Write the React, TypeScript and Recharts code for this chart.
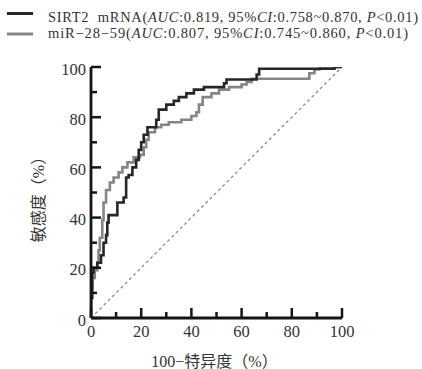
import React from 'react';
import { LineChart, Line, XAxis, YAxis } from 'recharts';

// ROC points: [100-specificity (%), sensitivity (%)]
const sirt2Fpr = [0,0,0.5,0.5,1,1,2.5,2.5,4,4,5,5,6,6,6.5,6.5,7,7,10.5,10.5,13,13,14,14,15,15,16.5,16.5,18,18,19,19,20,20,21,21,22.5,22.5,26,26,27,27,30,30,33,33,35,35,38,38,41,41,45,45,53,53,54,54,66,66,67,67,97,97,100];
const sirt2Sens = [0,8,8,18,18,20,20,22,22,25,25,30,30,33,33,38,38,41,41,46,46,48,48,56,56,57,57,60,60,63,63,67,67,70,70,73,73,76,76,79,79,83,83,85,85,86.5,86.5,88,88,89.5,89.5,91,91,92,92,93.5,93.5,95,95,97,97,99.3,99.3,100,100];

const mirFpr = [0,0,0.5,0.5,1.5,1.5,2.5,2.5,3,3,3.5,3.5,4.5,4.5,5,5,6,6,7.5,7.5,9,9,11,11,12.5,12.5,14.5,14.5,17,17,19.5,19.5,21,21,22,22,23,23,25.5,25.5,28,28,31,31,36,36,40,40,42,42,43,43,44.5,44.5,48,48,51,51,55,55,60,60,62,62,64,64,87,87,89,89,91,91,100];
const mirSens = [0,12,12,16,16,19,19,22,22,27,27,32,32,39,39,46,46,51,51,54,54,56,56,58,58,60,60,62,62,64,64,65,65,68,68,71,71,74,74,76,76,77,77,78,78,79,79,80.5,80.5,82,82,85,85,88,88,89.5,89.5,91,91,92,92,93,93,94,94,95.3,95.3,97.5,97.5,99,99,100,100];

const refFpr = [0, 100];
const refSens = [0, 100];

const xTicks = [0,10,20,30,40,50,60,70,80,90,100];
const yTicks = [0,10,20,30,40,50,60,70,80,90,100];

const legendLabels = [
  ['SIRT2\u00a0\u00a0mRNA', '0.819', '0.758~0.870'],
  ['miR\u221228\u221259', '0.807', '0.745~0.860'],
];

const xTitle = '100\u2212特异度（%）';
const yTitle = '敏感度（%）';

const toPts = (xs: number[], ys: number[]) => xs.map((x, i) => ({ x, y: ys[i] }));
const sirt2Data = toPts(sirt2Fpr, sirt2Sens);
const mirData = toPts(mirFpr, mirSens);
const refData = toPts(refFpr, refSens);

const SERIF = '"Liberation Serif", "DejaVu Serif", serif';
const CJK = '"Liberation Serif", "Noto Sans CJK SC", serif';
const AXIS = '#151515';

const XTick = (props: any) => {
  const { x, y, payload } = props;
  const v = payload.value;
  const major = v % 20 === 0;
  return (
    <g>
      <line x1={x} x2={x} y1={y} y2={y - (major ? 10 : 6)} stroke={AXIS} strokeWidth={2.5} />
      {major && (
        <text x={x} y={y + 19} textAnchor="middle" fontFamily={SERIF} fontSize={16.5} fill="#333">{v}</text>
      )}
    </g>
  );
};

const YTick = (props: any) => {
  const { x, y, payload } = props;
  const v = payload.value;
  const major = v % 20 === 0;
  return (
    <g>
      <line x1={x} x2={x + (major ? 10 : 6)} y1={y} y2={y} stroke={AXIS} strokeWidth={2.5} />
      {major && (
        <text x={x - 5} y={y + 7.5} textAnchor="end" fontFamily={SERIF} fontSize={16.5} fill="#333">{v}</text>
      )}
    </g>
  );
};

const XTitle = (props: any) => {
  const vb = props.viewBox;
  return (
    <text x={vb.x + vb.width / 2 - 2} y={vb.y + 49} textAnchor="middle" fontFamily={CJK} fontSize={16} fill="#333">{xTitle}</text>
  );
};

const YTitle = (props: any) => {
  const vb = props.viewBox;
  const cx = vb.x + 38;
  const cy = vb.y + vb.height / 2 + 3;
  return (
    <text x={cx} y={cy} textAnchor="middle" dominantBaseline="central" transform={`rotate(-90 ${cx} ${cy})`} fontFamily={CJK} fontSize={16} fill="#333">{yTitle}</text>
  );
};

const Legend = () => (
  <svg width={422} height={45} style={{ position: 'absolute', left: 0, top: 0 }}>
    {legendLabels.map((l, i) => {
      const ly = i === 0 ? 13.5 : 34;
      const ty = i === 0 ? 21.5 : 37.5;
      const col = i === 0 ? '#262626' : '#858585';
      return (
        <g key={i}>
          <line x1={7} x2={33} y1={ly} y2={ly} stroke={col} strokeWidth={3} />
          <text x={48} y={ty} fontFamily={SERIF} fontSize={14.5} fill="#333" textLength={i === 0 ? 370 : 360} lengthAdjust="spacing">
            {l[0]}(<tspan fontStyle="italic">AUC</tspan>:{l[1]}, 95%<tspan fontStyle="italic">CI</tspan>:{l[2]}, <tspan fontStyle="italic">P</tspan>&lt;0.01)
          </text>
        </g>
      );
    })}
  </svg>
);

export default function App() {
  return (
    <div style={{ position: 'absolute', left: 0, top: 0, width: 422, height: 369, background: '#fff' }}>
      <LineChart width={422} height={369} margin={{ top: 67, right: 80, left: 0, bottom: 0 }}>
        <XAxis
          type="number"
          dataKey="x"
          domain={[0, 100]}
          ticks={xTicks}
          interval={0}
          height={51}
          tickSize={0}
          tickMargin={0}
          tickLine={false}
          axisLine={{ stroke: AXIS, strokeWidth: 2.8 }}
          tick={<XTick />}
          label={<XTitle />}
          allowDataOverflow
        />
        <YAxis
          type="number"
          dataKey="y"
          domain={[0, 100]}
          ticks={yTicks}
          interval={0}
          width={91}
          tickSize={0}
          tickMargin={0}
          tickLine={false}
          axisLine={{ stroke: AXIS, strokeWidth: 2.8 }}
          tick={<YTick />}
          label={<YTitle />}
          allowDataOverflow
        />
        <Line data={refData} dataKey="y" type="linear" stroke="#8a8a8a" strokeWidth={1.3} strokeDasharray="3 3" dot={false} isAnimationActive={false} />
        <Line data={mirData} dataKey="y" type="linear" stroke="#858585" strokeWidth={2.6} dot={false} isAnimationActive={false} strokeLinejoin="miter" />
        <Line data={sirt2Data} dataKey="y" type="linear" stroke="#262626" strokeWidth={2.6} dot={false} isAnimationActive={false} strokeLinejoin="miter" />
      </LineChart>
      <Legend />
    </div>
  );
}
